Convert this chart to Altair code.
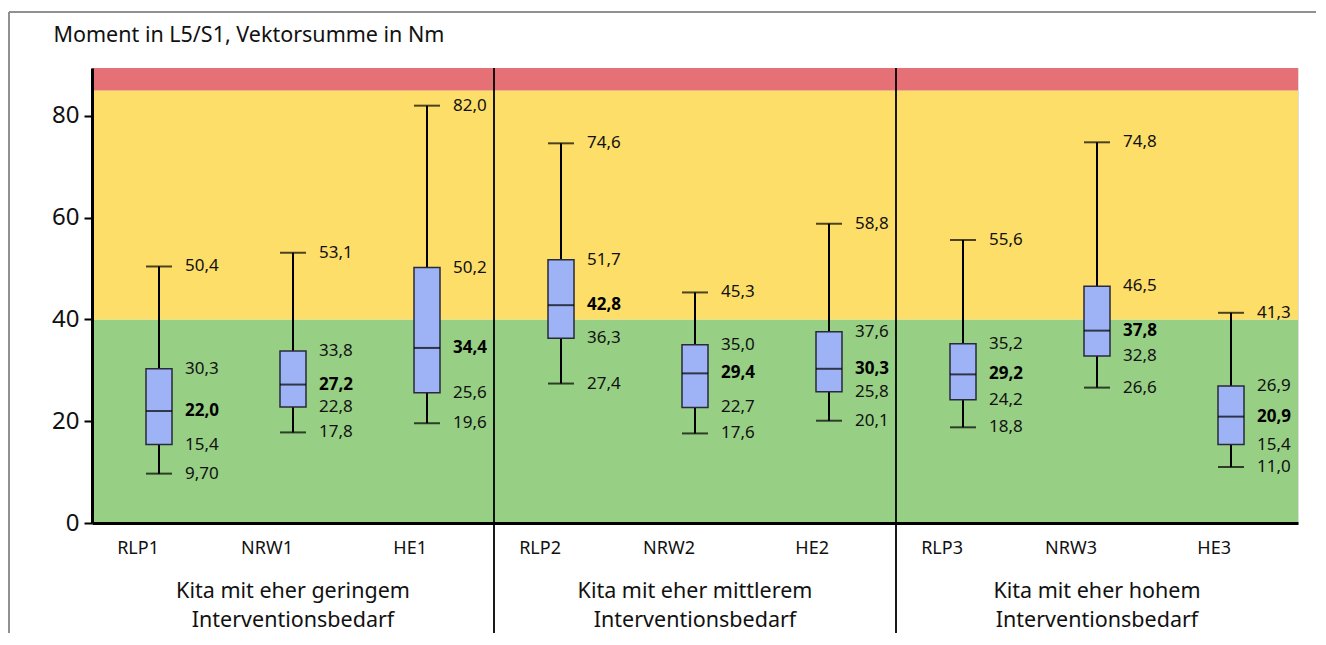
import altair as alt
import pandas as pd

# ---------------- data ----------------
categories = ["RLP1", "NRW1", "HE1", "RLP2", "NRW2", "HE2", "RLP3", "NRW3", "HE3"]
mins = [9.70, 17.8, 19.6, 27.4, 17.6, 20.1, 18.8, 26.6, 11.0]
q1s = [15.4, 22.8, 25.6, 36.3, 22.7, 25.8, 24.2, 32.8, 15.4]
medians = [22.0, 27.2, 34.4, 42.8, 29.4, 30.3, 29.2, 37.8, 20.9]
q3s = [30.3, 33.8, 50.2, 51.7, 35.0, 37.6, 35.2, 46.5, 26.9]
maxs = [50.4, 53.1, 82.0, 74.6, 45.3, 58.8, 55.6, 74.8, 41.3]

group_labels = [
    "Kita mit eher geringem\nInterventionsbedarf",
    "Kita mit eher mittlerem\nInterventionsbedarf",
    "Kita mit eher hohem\nInterventionsbedarf",
]
group_centers = ["NRW1", "NRW2", "NRW3"]
group_starts = ["RLP2", "RLP3"]

band_lo = [0, 40, 85]
band_hi = [40, 85, 89.4]
band_colors = ["#97CF84", "#FDDE69", "#E57176"]
y_ticks = [0, 20, 40, 60, 80]
y_title = "Moment in L5/S1, Vektorsumme in Nm"

FONT = "Noto Sans"
W, H = 1206, 455


def de(v):
    return "{:#.3g}".format(v).replace(".", ",")


boxes = pd.DataFrame({"cat": categories, "mn": mins, "q1": q1s, "med": medians,
                      "q3": q3s, "mx": maxs})
rows = []
for c, a, b, m, d, e in zip(categories, mins, q1s, medians, q3s, maxs):
    for v, bold in ((a, False), (b, False), (m, True), (d, False), (e, False)):
        rows.append({"cat": c, "v": v, "lab": de(v), "bold": bold})
labels = pd.DataFrame(rows)
bands = pd.DataFrame({"lo": band_lo, "hi": band_hi, "col": band_colors})
groups = pd.DataFrame({"cat": group_centers, "lab": group_labels})
seps = pd.DataFrame({"cat": group_starts})

xscale = alt.Scale(domain=categories, paddingInner=0, paddingOuter=0)
yscale = alt.Scale(domain=[0, 89.4], nice=False, zero=True)

X = alt.X("cat:N", scale=xscale, sort=categories,
          axis=alt.Axis(title=None, labelAngle=0, ticks=False, labelFont=FONT,
                        labelFontSize=18, labelColor="#111", labelPadding=25,
                        domainColor="#000", domainWidth=3, zindex=1))

band_layer = alt.Chart(bands).mark_rect().encode(
    x=alt.value(0), x2=alt.value(W),
    y=alt.Y("lo:Q", scale=yscale,
            axis=alt.Axis(values=y_ticks, title=y_title, titleAngle=0,
                          titleAlign="left", titleBaseline="middle",
                          titleX=-39, titleY=-33, titleFont=FONT,
                          titleFontSize=21.5, titleFontWeight="normal",
                          titleColor="#111", labelFont=FONT, labelFontSize=24,
                          labelColor="#111", tickSize=8, tickWidth=2,
                          tickColor="#000", labelPadding=5, grid=False,
                          domainColor="#000", domainWidth=3, zindex=1)),
    y2="hi:Q",
    color=alt.Color("col:N", scale=None),
)

sep_layer = alt.Chart(seps).mark_rule(color="#000", strokeWidth=1.8).encode(
    x=alt.X("cat:N", scale=xscale, bandPosition=0),
    y=alt.value(0), y2=alt.value(577),
)

frame_top = alt.Chart(seps).mark_rule(color="#8a8a8a", strokeWidth=1.5).encode(
    x=alt.value(-83), x2=alt.value(1300), y=alt.value(-56))
frame_left = alt.Chart(seps).mark_rule(color="#8a8a8a", strokeWidth=1.5).encode(
    x=alt.value(-83), y=alt.value(-56), y2=alt.value(600))

base = alt.Chart(boxes)
whisk = base.mark_rule(color="#000", strokeWidth=2).encode(
    x=X, y=alt.Y("mn:Q", scale=yscale), y2="mx:Q")
cap_lo = base.mark_tick(color="#000", thickness=2, size=26).encode(
    x=alt.X("cat:N", scale=xscale), y=alt.Y("mn:Q", scale=yscale))
cap_hi = base.mark_tick(color="#000", thickness=2, size=26).encode(
    x=alt.X("cat:N", scale=xscale), y=alt.Y("mx:Q", scale=yscale))
box = base.mark_bar(size=26, color="#9DB3F5", stroke="#2a2a3a",
                    strokeWidth=1.5).encode(
    x=alt.X("cat:N", scale=xscale), y=alt.Y("q1:Q", scale=yscale), y2="q3:Q")
med = base.mark_tick(color="#000", thickness=2, size=26).encode(
    x=alt.X("cat:N", scale=xscale), y=alt.Y("med:Q", scale=yscale))

lab_norm = alt.Chart(labels).transform_filter("!datum.bold").mark_text(
    align="left", baseline="middle", dx=26, font=FONT, fontSize=17,
    color="#111").encode(
    x=alt.X("cat:N", scale=xscale), y=alt.Y("v:Q", scale=yscale), text="lab:N")
lab_bold = alt.Chart(labels).transform_filter("datum.bold").mark_text(
    align="left", baseline="middle", dx=26, font=FONT, fontSize=17,
    fontWeight="bold", color="#000").encode(
    x=alt.X("cat:N", scale=xscale), y=alt.Y("v:Q", scale=yscale), text="lab:N")

grp = alt.Chart(groups).mark_text(
    align="center", baseline="middle", font=FONT, fontSize=21.5, color="#111",
    lineBreak="\n", lineHeight=29).encode(
    x=alt.X("cat:N", scale=xscale), y=alt.value(524), text="lab:N")

chart = alt.layer(
    band_layer, sep_layer, frame_top, frame_left, whisk, cap_lo, cap_hi, box,
    med, lab_norm, lab_bold, grp,
).properties(
    width=W, height=H,
    autosize=alt.AutoSizeParams(type="none"),
    padding={"left": 84, "top": 60, "right": 18, "bottom": 110},
).configure_view(stroke=None).configure(background="white")

chart.save("out.html", embed_options={"renderer": "svg", "actions": False})
